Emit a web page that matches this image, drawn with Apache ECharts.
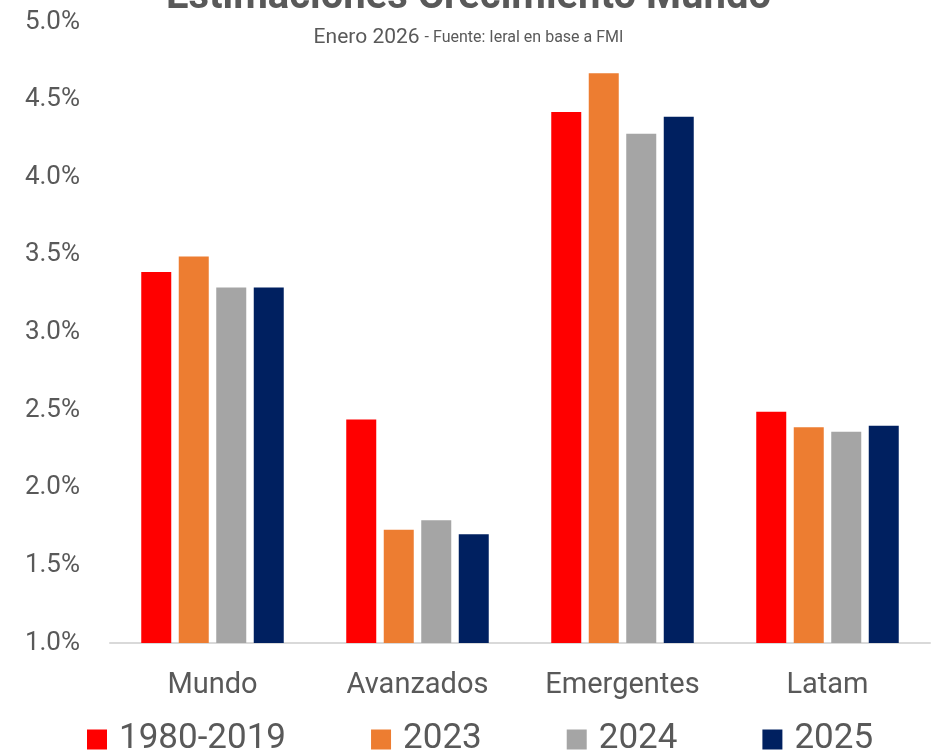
<!DOCTYPE html>
<html>
<head>
<meta charset="utf-8">
<script src="https://cdn.jsdelivr.net/npm/echarts@6/dist/echarts.min.js"></script>
<style>
  html, body { margin: 0; padding: 0; background: #fff; }
  #chart { width: 937px; height: 754px; }
</style>
</head>
<body>
<div id="chart"></div>
<script>
// datos
var categorias = ['Mundo', 'Avanzados', 'Emergentes', 'Latam'];
var series_nombres = ['1980-2019', '2023', '2024', '2025'];
var v1980_2019 = [3.39, 2.44, 4.42, 2.49];
var v2023 = [3.49, 1.73, 4.67, 2.39];
var v2024 = [3.29, 1.79, 4.28, 2.36];
var v2025 = [3.29, 1.70, 4.39, 2.40];
var colores = ['#FF0000', '#ED7D31', '#A5A5A5', '#002060'];

var fuente = 'Roboto, "Noto Sans", sans-serif';
var gris = '#595959';

var chart = echarts.init(document.getElementById('chart'));

var valores = [v1980_2019, v2023, v2024, v2025];
var series = [];
for (var i = 0; i < series_nombres.length; i++) {
  series.push({
    name: series_nombres[i],
    type: 'bar',
    data: valores[i],
    barWidth: 30,
    barGap: '25%',
    itemStyle: { color: colores[i] }
  });
}

var option = {
  backgroundColor: '#fff',
  animation: false,
  title: [{
    text: 'Estimaciones Crecimiento Mundo',
    left: 'center',
    top: -27,
    textStyle: { fontFamily: fuente, fontSize: 40, fontWeight: 'bold', color: gris, lineHeight: 40 }
  }, {
    text: '{a|Enero 2026} {b|- Fuente: Ieral en base a FMI}',
    left: 'center',
    top: 22,
    textStyle: {
      fontWeight: 'normal',
      rich: {
        a: { fontFamily: fuente, fontSize: 21, fontWeight: 'normal', color: gris },
        b: { fontFamily: fuente, fontSize: 16, fontWeight: 'normal', color: gris }
      }
    }
  }],
  legend: {
    data: series_nombres,
    bottom: -8,
    left: 82,
    itemWidth: 20,
    itemHeight: 20,
    itemGap: 85,
    icon: 'rect',
    textStyle: { fontFamily: fuente, fontSize: 35, color: gris, padding: [0, 0, 0, 7] }
  },
  grid: { left: 110, right: 7, top: 22, bottom: 111 },
  xAxis: {
    type: 'category',
    data: categorias,
    axisLine: { lineStyle: { color: '#D9D9D9', width: 2 } },
    axisTick: { show: false },
    axisLabel: { fontFamily: fuente, fontSize: 29, color: gris, margin: 28, interval: 0 }
  },
  yAxis: {
    type: 'value',
    min: 1,
    max: 5,
    interval: 0.5,
    splitLine: { show: false },
    axisLine: { show: false },
    axisTick: { show: false },
    axisLabel: {
      fontFamily: fuente, fontSize: 26, color: gris, margin: 30,
      formatter: function (v) { return v.toFixed(1) + '%'; }
    }
  },
  series: series
};

chart.setOption(option);
</script>
</body>
</html>
